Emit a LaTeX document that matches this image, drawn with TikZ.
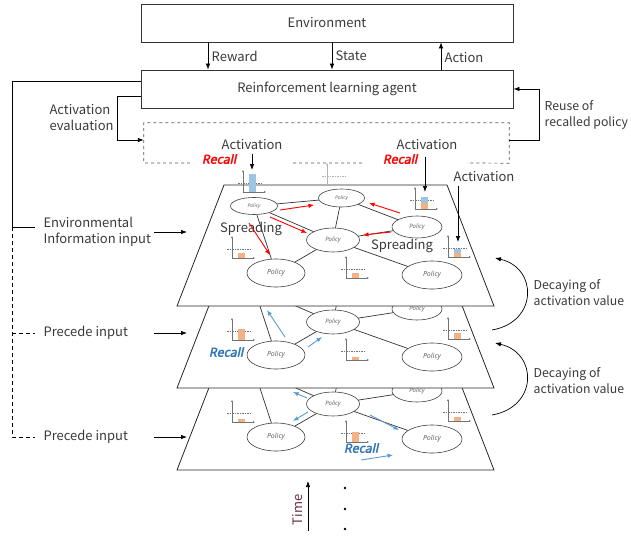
\documentclass[tikz,border=0pt]{standalone}
\usepackage{fontspec}
\setmainfont{Noto Sans CJK JP}
\newfontfamily\notosans{Noto Sans}
\newfontfamily\recallfont{Noto Sans}[FakeBold=2.5, FakeSlant=0.22]
\usepackage{tikz}
\usetikzlibrary{positioning, calc, arrows.meta, shapes.geometric}
\definecolor{txt}{HTML}{3A3A3A}
\definecolor{recallblue}{HTML}{2E75B6}
\definecolor{spreadblue}{HTML}{5B9BD5}
\definecolor{barblue}{HTML}{9DC3E6}
\definecolor{barorange}{HTML}{F4B183}
\definecolor{timecol}{HTML}{6B2D4B}

\begin{document}
\begin{tikzpicture}[x=1pt, y=-1pt, every node/.style={align=center, text=txt, font=\fontsize{13}{16}\selectfont},
  box/.style={draw=black!80, line width=0.8pt, minimum width=372pt, minimum height=38pt},
  arr/.style={-{Latex[length=6pt,width=4.5pt]}, line width=0.7pt},
  layer/.style={draw=black!85, fill=white, line width=0.8pt},
  policy/.style={ellipse, draw=black!75, fill=white, line width=0.6pt, inner sep=0pt, text=black!60, font=\notosans\itshape\fontsize{#1}{#1}\selectfont},
  link/.style={draw=black!80, line width=0.7pt},
  spread/.style={red, line width=0.9pt, -{Latex[length=5.5pt,width=4.5pt]}},
  recspread/.style={spreadblue, line width=0.9pt, -{Latex[length=5.5pt,width=4.5pt]}},
  recall/.style={font=\recallfont\fontsize{12.5}{14}\selectfont},
  sidenote/.style={anchor=west, align=left, inner xsep=1.5pt, font=\fontsize{12.3}{16}\selectfont}]
\useasboundingbox (0,0) rectangle (631,535);
\node[box] (env) at (327,23) {Environment};
\node[box] (agent) at (327,89) {Reinforcement learning agent};
\draw[arr] (208,0 |- env.south) -- (208,0 |- agent.north) node[midway, right] {Reward};
\draw[arr] (332,0 |- env.south) -- (332,0 |- agent.north) node[midway, right] {State};
\draw[arr] (441,0 |- agent.north) -- (441,0 |- env.south) node[midway, right, yshift=-2] {Action};
\node (dbox) [minimum width=365pt, minimum height=40pt] at (326.5,143) {};
\draw[black!65, dashed, line width=0.7pt] (190,163) -| (dbox.north west) -| (dbox.south east) -- (467,163) (293,163) -- (363,163);
\node[anchor=west, align=left] (acteval) at (46,118) {Activation\\evaluation};
\draw[arr] (agent.west |- 0,96) -| (117,140) -- (dbox.west |- 0,140);
\node[sidenote] (reuse) at (543,115) {Reuse of\\recalled policy};
\draw[arr] (dbox.east |- 0,140) -| (539,89) -- (agent.east);
\draw[line width=0.7pt] (agent.west |- 0,81) -| (12,227) coordinate (jin) -- ++(23,0);
\draw[dashed, dash pattern=on 4pt off 3pt, line width=0.7pt] (jin) |- (35,437) (12,333) -- ++(23,0);
\node[anchor=west, align=left] (envin) at (40,232) {Environmental\\Information input};
\node[anchor=west] (prec1) at (40,333) {Precede input};
\node[anchor=west] (prec2) at (40,437) {Precede input};
\foreach \lab in {envin, prec1, prec2}
  \draw[arr] (154,0 |- \lab) -- (187,0 |- \lab);
\foreach \dy/\ta/\tb/\tc/\bd in {164/2.7/9.7/4.3/0, 82/10.7/3.3/5.6/0, 0/5.3/5.3/3.7/4} {
  \begin{scope}[shift={(0,\dy)}]
  \draw[layer] (224,185) -- (447,185) -- (494,306) -- (177,306) -- cycle;
  \foreach \cx/\cy/\o/\b/\g in {243/192/0/18/55, 327/185/0/0/30, 415/209/6.5/5.5/55, 448/257/\tc/\bd/55, 232/258/\ta/0/55, 346/278/\tb/0/55} {
    \draw[black!\g, line width=0.5pt, dashed, dash pattern=on 1.5pt off 1pt] (\cx-5,\cy-9) -- ++(25,0);
    \fill[barorange] (\cx+6,\cy) rectangle ++(7,-\o);
    \fill[barblue] (\cx+6,\cy-\o) rectangle ++(7,-\b);
    \draw[black!\g, line width=0.5pt, {Latex[length=2pt,width=2pt]}-{Latex[length=2pt,width=2pt]}] (\cx,\cy-22) |- (\cx+23,\cy);
  }
  \node[policy=5, minimum width=47pt, minimum height=17pt] (A\dy) at (254,206) {Policy};
  \node[policy=5, minimum width=46pt, minimum height=18pt] (B\dy) at (341.5,198) {Policy};
  \node[policy=6, minimum width=50pt, minimum height=22pt] (C\dy) at (417,227) {Policy};
  \node[policy=6, minimum width=53pt, minimum height=24pt] (D\dy) at (333,240) {Policy};
  \node[policy=7, minimum width=58pt, minimum height=28pt] (E\dy) at (276,273) {Policy};
  \node[policy=7, minimum width=60pt, minimum height=28pt] (F\dy) at (432,275) {Policy};
  \draw[link] (A\dy) -- (B\dy) (A\dy) -- (D\dy) (A\dy) -- (E\dy) (B\dy) -- (D\dy)
              (B\dy) -- (C\dy) (C\dy) -- (D\dy) (D\dy) -- (E\dy) (D\dy) -- (F\dy);
  \end{scope}
}
\node (act1) at (252,145) {Activation};
\node (act2) at (427,145) {Activation};
\node (act3) at (484,177) {Activation};
\node[recall, text=red] (rec1) at (219,159) {Recall};
\node[recall, text=red] (rec2) at (400,159) {Recall};
\draw[arr] (act1.south) -- (252,170);
\draw[arr] (act2.south) ++(-2,3) -- (425,192);
\draw[arr] (act3.south -| 458,0) -- (458,242);
\node (spr1) at (251,229) {Spreading};
\node (spr2) at (402,246) {Spreading};
\draw[spread] (280,210) -- (314,205);
\draw[spread] (270,217) -- (307,233);
\draw[spread] (249,223) -- (270,255);
\draw[spread] (400,213) -- (369,203);
\draw[spread] (391,232) -- (363,235);
\node[recall, text=recallblue] (rec3) at (226,352) {Recall};
\draw[recspread] (285,337) -- (267,310);
\draw[recspread] (308,347) -- (322,337);
\node[recall, text=recallblue] (rec4) at (361,448) {Recall};
\draw[recspread] (307,398) -- (293,392);
\draw[recspread] (308,412) -- (293,421);
\draw[recspread] (370,415) -- (399,430);
\draw[recspread] (361,460) -- (393,455);
\draw[arr] (492,330) .. controls (538,322) and (538,268) .. (495,258);
\draw[arr] (492,415) .. controls (538,407) and (538,353) .. (495,343);
\node[sidenote] (dec1) at (532,293) {Decaying of\\activation value};
\node[sidenote] (dec2) at (532,381) {Decaying of\\activation value};
\node[rotate=90, text=timecol] (time) at (298,510) {Time};
\draw[arr] (308,531) -- (308,481);
\foreach \y in {488,509,529} \fill (345,\y) circle (1.3pt);
\end{tikzpicture}
\end{document}
